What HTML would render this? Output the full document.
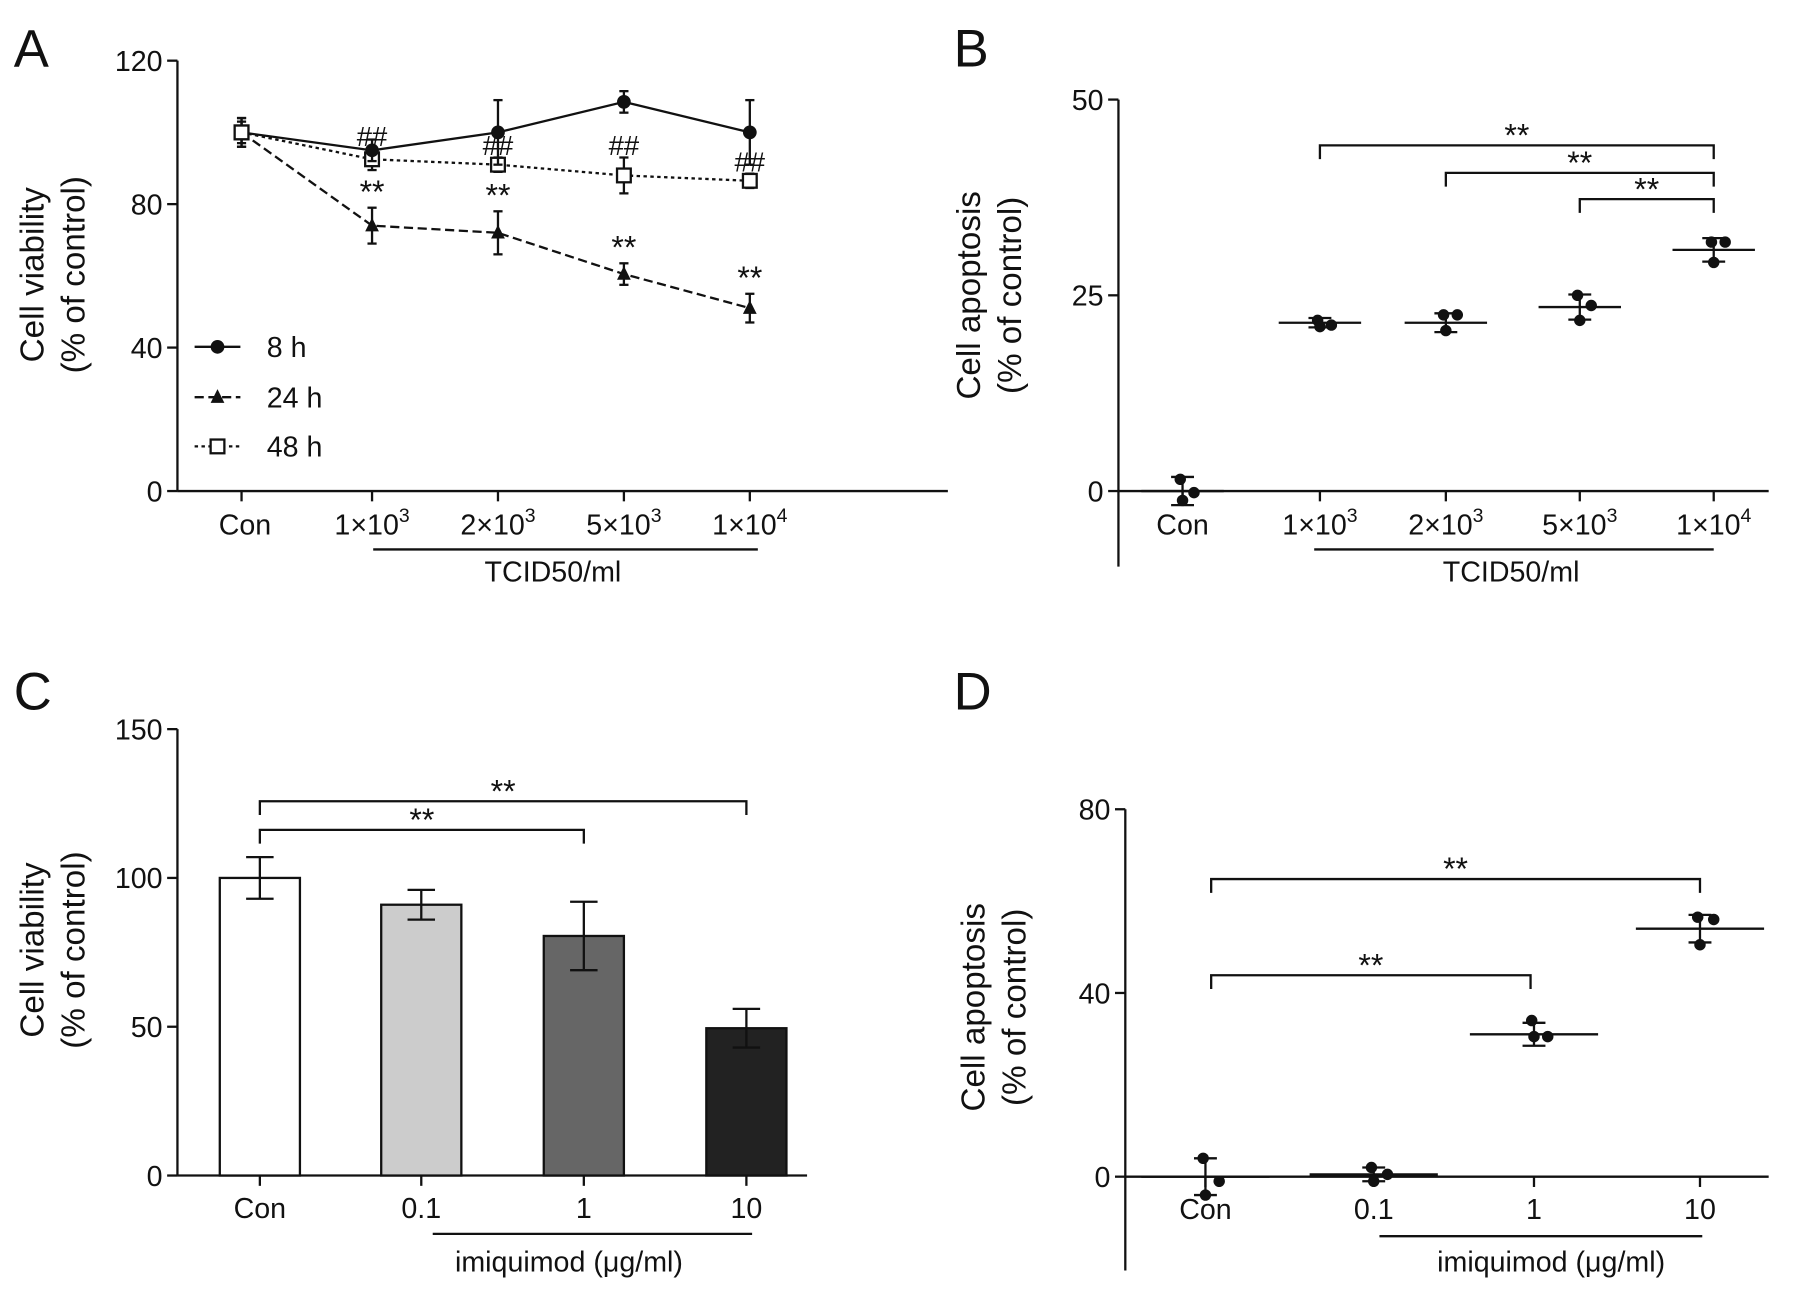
<!DOCTYPE html>
<html><head><meta charset="utf-8"><style>
html,body{margin:0;padding:0;background:#fff}
svg{display:block}
text{font-family:"Liberation Sans",sans-serif;fill:#111}
</style></head><body>
<svg id="fig" width="1795" height="1290" viewBox="0 0 1568 1127" preserveAspectRatio="none" xmlns="http://www.w3.org/2000/svg">
<rect width="1568" height="1127" fill="#fff"/>
<text x="12" y="58" font-size="46">A</text>
<text x="833" y="58" font-size="46">B</text>
<text x="12" y="620" font-size="46">C</text>
<text x="833" y="620" font-size="46">D</text>
<text transform="translate(38,240) rotate(-90)" font-size="29" text-anchor="middle">Cell viability</text>
<text transform="translate(74,240) rotate(-90)" font-size="29" text-anchor="middle">(% of control)</text>
<text transform="translate(856,258) rotate(-90)" font-size="29" text-anchor="middle">Cell apoptosis</text>
<text transform="translate(892,258) rotate(-90)" font-size="29" text-anchor="middle">(% of control)</text>
<text transform="translate(38,830) rotate(-90)" font-size="29" text-anchor="middle">Cell viability</text>
<text transform="translate(74,830) rotate(-90)" font-size="29" text-anchor="middle">(% of control)</text>
<text transform="translate(860,880) rotate(-90)" font-size="29" text-anchor="middle">Cell apoptosis</text>
<text transform="translate(896,880) rotate(-90)" font-size="29" text-anchor="middle">(% of control)</text>
<g id="g"></g>
</svg>
<script>
// Panel A data
const catsA=["Con","1×10","2×10","5×10","1×10"];
const expA=["","3","3","3","4"];
const v8=[100,95,100,108.5,100], e8=[4,3,9,3,9];
const v24=[100,74,72,60.5,51], e24=[4,5,6,3,4];
const v48=[100,92.5,91,88,86.5], e48=[3,3,2,5,2];
const ticksA=[0,40,80,120];
// Panel B data
const catsB=["Con","1×10","2×10","5×10","1×10"];
const meanB=[0,21.5,21.5,23.5,30.8], sdB=[1.8,0.6,1.2,1.6,1.5];
const ptsB=[[1.5,-0.2,-1.2],[21.8,21.2,21.0],[22.5,22.5,20.5],[25,23.7,21.8],[31.8,31.8,29.2]];
const ticksB=[0,25,50];
// Panel C data
const catsC=["Con","0.1","1","10"];
const valC=[100,91,80.5,49.5], errC=[7,5,11.5,6.5];
const colC=["#ffffff","#cccccc","#666666","#222222"];
const ticksC=[0,50,100,150];
// Panel D data
const catsD=["Con","0.1","1","10"];
const meanD=[0,0.5,31,54], sdD=[4,1.5,2.5,3];
const ptsD=[[4,-1,-4],[2,0.5,-1],[34,30.5,30.5],[56.5,56,50.5]];
const ticksD=[0,40,80];

const NS="http://www.w3.org/2000/svg", G=document.getElementById('g');
function el(t,a,p){const e=document.createElementNS(NS,t);for(const k in a)e.setAttribute(k,a[k]);(p||G).appendChild(e);return e;}
function line(x1,y1,x2,y2,w,name,dash){const e=el('line',{x1,y1,x2,y2,stroke:'#111','stroke-width':w||2});if(dash)e.setAttribute('stroke-dasharray',dash);

return e;}
function txt(x,y,s,size,name,anchor){const e=el('text',{x,y,'font-size':size||24,'text-anchor':anchor||'middle'});e.textContent=s;

return e;}
function catLabel(x,y,base,exp,name){const e=txt(x,y,base,25,name);if(exp){const t=el('tspan',{dy:-11,'font-size':17},e);t.textContent=exp;}return e;}
function yAxis(x,yTop,yBot,ticks,ys,name){line(x,yTop,x,yBot,2,name);ticks.forEach(t=>{line(x-9,ys(t),x,ys(t),2,name+'-tick');txt(x-13,ys(t)+9,String(t),25,name+'-tick-label','end');});}
function bracket(x1,x2,y,name){const p=el('path',{d:`M${x1} ${y+12}V${y}H${x2}V${y+12}`,fill:'none',stroke:'#111','stroke-width':2});


txt((x1+x2)/2,y+1,'**',28,name+'-stars');}
function errbar(x,y1,y2,w,name){line(x,y1,x,y2,2,name);line(x-w,y1,x+w,y1,2,name+'-cap');line(x-w,y2,x+w,y2,2,name+'-cap');}

// ---- Panel A ----
const yA=v=>429-v*(376/120), xA=[211,325,435,545,655];
yAxis(155,53,429,ticksA,yA,'y-axis-a');
line(155,429,828,429,2,'x-axis-a');
xA.forEach((x,i)=>{line(x,429,x,438,2,'x-tick-a');catLabel(x+(i?0:3),467,catsA[i],expA[i],'x-label-a');});
line(326,480,662,480,2,'tcid-underline-a');txt(483,508,'TCID50/ml',25,'x-group-label-a');
function series(vals,errs,dash,marker,name){
  const pts=vals.map((v,i)=>xA[i]+','+yA(v)).join(' ');
  const pl=el('polyline',{points:pts,fill:'none',stroke:'#111','stroke-width':2});if(dash)pl.setAttribute('stroke-dasharray',dash);
  
  
  vals.forEach((v,i)=>{errbar(xA[i],yA(v+errs[i]),yA(v-errs[i]),4,name+'-error');drawMarker(xA[i],yA(v),marker,name+'-point');});
}
function drawMarker(x,y,m,name){let e;
 if(m==='c')e=el('circle',{cx:x,cy:y,r:6,fill:'#111'});
 else if(m==='t')e=el('path',{d:`M${x} ${y-7}L${x+6} ${y+5}L${x-6} ${y+5}Z`,fill:'#111'});
 else e=el('rect',{x:x-6,y:y-6,width:12,height:12,fill:'#fff',stroke:'#111','stroke-width':2});
 
 }
series(v48,e48,'3,3','s','series-48h');
series(v24,e24,'8,4','t','series-24h');
series(v8,e8,null,'c','series-8h');
drawMarker(211,yA(100),'s','series-con-point');
[1,2,3,4].forEach(i=>{txt(xA[i],yA(v24[i]+e24[i])-4,'**',28,'sig-24h');txt(xA[i],yA(v48[i]+e48[i])-2,'##',24,'sig-48h');});
[['c',null,'8 h',303],['t','8,4','24 h',347],['s','3,3','48 h',390]].forEach(L=>{line(170,L[3],210,L[3],2,'legend-line',L[1]);drawMarker(190,L[3],L[0],'legend-marker');txt(233,L[3]+9,L[2],25,'legend-label','start');});

// ---- Panel B ----
const yB=v=>429-v*(342/50), xB=[1033,1153,1263,1380,1497];
yAxis(977,87,495,ticksB,yB,'y-axis-b');
line(977,429,1545,429,2,'x-axis-b');
xB.forEach((x,i)=>{line(x,429,x,438,2,'x-tick-b');catLabel(x,467,catsB[i],expA[i],'x-label-b');});
line(1148,480,1497,480,2,'tcid-underline-b');txt(1320,508,'TCID50/ml',25,'x-group-label-b');
meanB.forEach((m,i)=>{const x=xB[i];line(x-36,yB(m),x+36,yB(m),2,'mean-line-b');errbar(x,yB(m+sdB[i]),yB(m-sdB[i]),10,'sd-b');
 ptsB[i].forEach((p,j)=>{const c=el('circle',{cx:x+[-2,10,0][j],cy:yB(p),r:5,fill:'#111'});});});
bracket(1153,1497,127,'sig-bracket-b1');bracket(1263,1497,151,'sig-bracket-b2');bracket(1380,1497,174,'sig-bracket-b3');

// ---- Panel C ----
const yC=v=>1027-v*(390/150), xC=[227,368,510,652];
yAxis(155,637,1027,ticksC,yC,'y-axis-c');
line(155,1027,705,1027,2,'x-axis-c');
valC.forEach((v,i)=>{const x=xC[i];const r=el('rect',{x:x-35,y:yC(v),width:70,height:1027-yC(v),fill:colC[i],stroke:'#111','stroke-width':2});
 
 
 errbar(x,yC(v+errC[i]),yC(v-errC[i]),12,'error-c');line(x,1027,x,1036,2,'x-tick-c');txt(x,1064,catsC[i],25,'x-label-c');});
bracket(227,510,725,'sig-bracket-c1');bracket(227,652,700,'sig-bracket-c2');
line(378,1078,657,1078,2,'imiquimod-underline-c');txt(497,1111,'imiquimod (μg/ml)',25,'x-group-label-c');

// ---- Panel D ----
const yD=v=>1028-v*(321/80), xD=[1053,1200,1340,1485];
yAxis(983,707,1110,ticksD,yD,'y-axis-d');
line(983,1028,1545,1028,2,'x-axis-d');
meanD.forEach((m,i)=>{const x=xD[i];line(x-56,yD(m),x+56,yD(m),2,'mean-line-d');errbar(x,yD(m+sdD[i]),yD(m-sdD[i]),10,'sd-d');
 line(x,1028,x,1037,2,'x-tick-d');txt(x,1065,catsD[i],25,'x-label-d');
 ptsD[i].forEach((p,j)=>{const c=el('circle',{cx:x+[-2,12,0][j],cy:yD(p),r:5,fill:'#111'});});});
bracket(1058,1337,852,'sig-bracket-d1');bracket(1058,1485,768,'sig-bracket-d2');
line(1205,1080,1487,1080,2,'imiquimod-underline-d');txt(1355,1111,'imiquimod (μg/ml)',25,'x-group-label-d');
</script>
</body></html>
